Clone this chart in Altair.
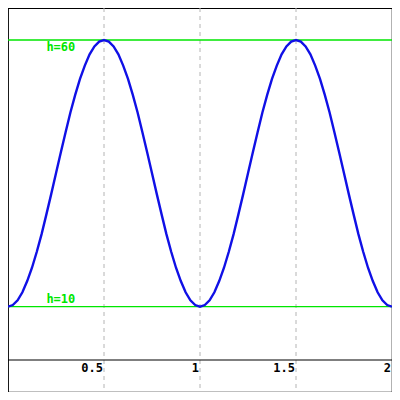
import altair as alt
import pandas as pd

# curve samples (x in 0.025 steps, h)
xs = [round(i * 0.025, 3) for i in range(81)]
h_vals = [
    10.0, 10.3, 11.2, 12.7, 14.8, 17.3, 20.3, 23.6, 27.3, 31.1, 35.0,
    38.9, 42.7, 46.4, 49.7, 52.7, 55.2, 57.3, 58.8, 59.7, 60.0,
    59.7, 58.8, 57.3, 55.2, 52.7, 49.7, 46.4, 42.7, 38.9, 35.0,
    31.1, 27.3, 23.6, 20.3, 17.3, 14.8, 12.7, 11.2, 10.3, 10.0,
    10.3, 11.2, 12.7, 14.8, 17.3, 20.3, 23.6, 27.3, 31.1, 35.0,
    38.9, 42.7, 46.4, 49.7, 52.7, 55.2, 57.3, 58.8, 59.7, 60.0,
    59.7, 58.8, 57.3, 55.2, 52.7, 49.7, 46.4, 42.7, 38.9, 35.0,
    31.1, 27.3, 23.6, 20.3, 17.3, 14.8, 12.7, 11.2, 10.3, 10.0,
]
grid_x = [0.5, 1.0, 1.5]
tick_x = [0.5, 1.0, 1.5, 2.0]
tick_labels = ["0.5", "1", "1.5", "2"]
ref_h = [60, 10]
ref_labels = ["h=60", "h=10"]
label_x = 0.2

X_DOMAIN = [0, 2]
Y_DOMAIN = [-6, 66]
GREEN = "#00e600"
FONT = "DejaVu Sans Mono"

xs_scale = alt.Scale(domain=X_DOMAIN, nice=False, zero=False)
ys_scale = alt.Scale(domain=Y_DOMAIN, nice=False, zero=False)

curve_df = pd.DataFrame({"x": xs, "h": h_vals})
grid_df = pd.DataFrame({"x": grid_x})
tick_df = pd.DataFrame({"x": tick_x, "label": tick_labels, "y": [0] * len(tick_x)})
ref_df = pd.DataFrame({"h": ref_h, "label": ref_labels, "x": [label_x] * len(ref_h)})
zero_df = pd.DataFrame({"y": [0]})

grid = alt.Chart(grid_df).mark_rule(color="#b4b4b4", strokeDash=[4, 4], strokeWidth=1).encode(
    x=alt.X("x:Q", scale=xs_scale, axis=None)
)

refs = alt.Chart(ref_df).mark_rule(color=GREEN, strokeWidth=1.3).encode(
    y=alt.Y("h:Q", scale=ys_scale, axis=None)
)

zero_line = alt.Chart(zero_df).mark_rule(color="black", strokeWidth=1.2).encode(
    y=alt.Y("y:Q", scale=ys_scale, axis=None)
)

curve = alt.Chart(curve_df).mark_line(color="#1010e6", strokeWidth=2.4).encode(
    x=alt.X("x:Q", scale=xs_scale, axis=None),
    y=alt.Y("h:Q", scale=ys_scale, axis=None),
)

ticks = alt.Chart(tick_df).mark_text(
    align="right", baseline="top", dx=-1, dy=3, font=FONT, fontWeight="bold", fontSize=12, color="black"
).encode(
    x=alt.X("x:Q", scale=xs_scale, axis=None),
    y=alt.Y("y:Q", scale=ys_scale, axis=None),
    text="label:N",
)

top_label = alt.Chart(ref_df[ref_df["h"] == 60]).mark_text(
    align="left", baseline="top", dy=2, font=FONT, fontWeight="bold", fontSize=12, color=GREEN
).encode(
    x=alt.X("x:Q", scale=xs_scale, axis=None),
    y=alt.Y("h:Q", scale=ys_scale, axis=None),
    text="label:N",
)

bottom_label = alt.Chart(ref_df[ref_df["h"] == 10]).mark_text(
    align="left", baseline="bottom", dy=-1, font=FONT, fontWeight="bold", fontSize=12, color=GREEN
).encode(
    x=alt.X("x:Q", scale=xs_scale, axis=None),
    y=alt.Y("h:Q", scale=ys_scale, axis=None),
    text="label:N",
)

chart = alt.layer(grid, refs, zero_line, curve, ticks, top_label, bottom_label).properties(
    width=384, height=384, padding=0, autosize=alt.AutoSizeParams(type="none"), background="white"
).configure_view(stroke="black", strokeWidth=1.2)

chart.save("out.html", embed_options={"renderer": "svg", "actions": False})
